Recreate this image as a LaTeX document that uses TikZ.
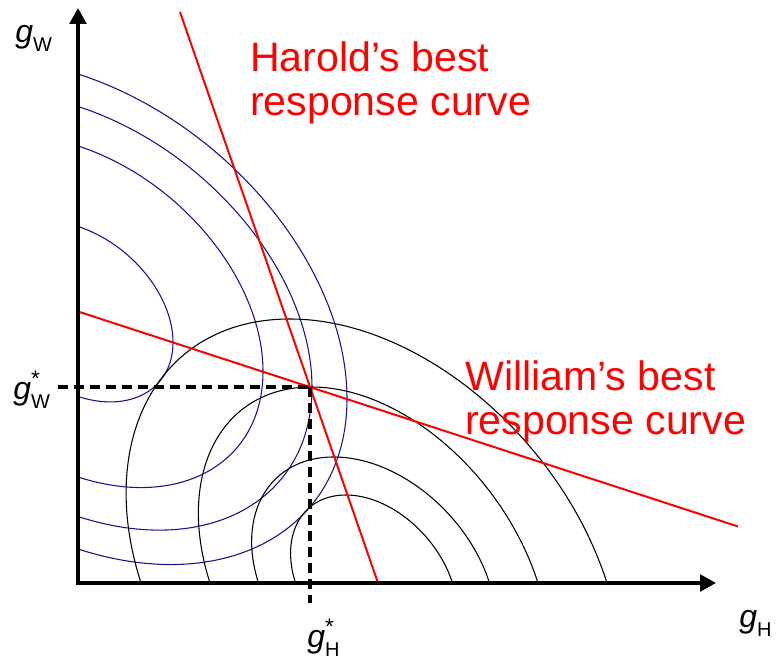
\documentclass[tikz,border=0pt]{standalone}
\usepackage{fontspec}
\setmainfont{Liberation Sans}
\usetikzlibrary{arrows.meta,intersections}
\definecolor{wblue}{RGB}{20,20,140}
\definecolor{hred}{RGB}{255,0,0}
\newcommand\axsub[1]{\raisebox{-6.5pt}{\fontsize{15}{15}\selectfont #1}}
\newcommand\axstar{\rlap{\raisebox{10pt}{\fontsize{17}{17}\selectfont *}}}
\begin{document}
\begin{tikzpicture}[x=0.75pt,y=0.75pt,
  axis/.style={line width=2.6pt, line join=miter, {Triangle[length=12pt,width=12.5pt]}-{Triangle[length=12pt,width=12.5pt]}},
  brline/.style={hred, line width=1.5pt},
  wcurve/.style={wblue, line width=0.8pt},
  hcurve/.style={black, line width=0.8pt},
  guide/.style={line width=3pt, dash pattern=on 7.5pt off 4.5pt},
  lbl/.style={text=hred, font=\fontsize{30.8}{33}\selectfont, align=left, inner sep=0pt, anchor=north west},
  axlbl/.style={font=\fontsize{24}{24}\selectfont, inner sep=0pt, anchor=base west}]
\useasboundingbox (0,0) rectangle (778,660);
\coordinate (O) at (78,77);
\coordinate (ytip) at (78,652);
\coordinate (xtip) at (716,77);
% William's indifference curves (blue)
\foreach \a/\b in {95/85,185/165.5,234/205,269/237.5}
  \draw[wcurve, shift={(78,348.5)}, yslant=-0.324] (0,\b) arc[start angle=90,end angle=-90,x radius=\a,y radius=\b];
% Harold's indifference curves (black)
\foreach \a/\b in {78.5/88,115.5/126,164/196,233/264}
  \draw[hcurve, shift={(374,77)}, xslant=-0.32] (\a,0) arc[start angle=0,end angle=180,x radius=\a,y radius=\b];
% best response lines
\coordinate (h1) at (180,648);
\coordinate (h2) at (378,77);
\coordinate (w1) at (78,348.5);
\coordinate (w2) at (738,133.5);
\draw[brline, name path=hl] (h1) -- (h2);
\draw[brline, name path=wl] (w1) -- (w2);
\path[name intersections={of=hl and wl, by=E}];
% dashed guides
\coordinate (dlx) at (58,0);
\coordinate (dby) at (0,57);
\draw[guide] (E -| dlx) -- (E);
\draw[guide] (E) -- (E |- dby);
% axes
\draw[axis] (ytip) -- (O) -- (xtip);
% labels
\node[lbl] (hlab) at (250,619) {Harold’s best\\response curve};
\node[lbl] (wlab) at (465,300) {William’s best\\response curve};
\node[axlbl] (gw) at (15,617) {\textit{g}\axsub{W}};
\node[axlbl] (gws) at (13,260) {\textit{g}\axstar\axsub{W}};
\node[axlbl] (gh) at (739,32) {\textit{g}\axsub{H}};
\node[axlbl] (ghs) at (307,12) {\textit{g}\axstar\axsub{H}};
\end{tikzpicture}
\end{document}
